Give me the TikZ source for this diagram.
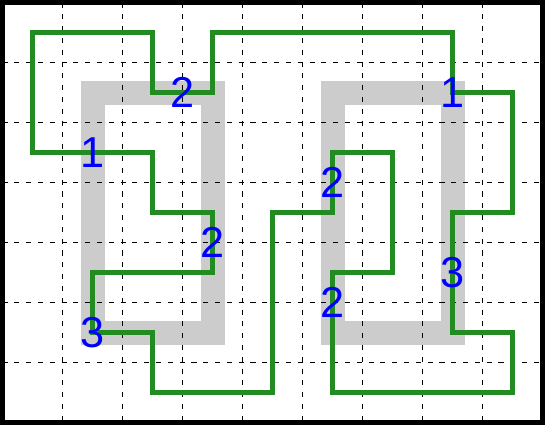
\documentclass[tikz,border=0pt]{standalone}
\usepackage{fontspec}
\setmainfont{Liberation Sans}
\definecolor{loopgreen}{HTML}{228B22}
\definecolor{bandgray}{HTML}{CCCCCC}
\definecolor{numblue}{HTML}{0000FF}
\usepackage{tikz}
\usetikzlibrary{calc}
\tikzset{
  frame_box/.style={draw=black,line width=0.0833cm},
  grid_line/.style={draw=black,line width=0.85pt,dash pattern=on 2.4pt off 3.2pt},
  band_ring/.style={draw=bandgray,line width=0.4cm,line join=miter},
  loop_line/.style={draw=loopgreen,line width=0.085cm,line join=miter},
  num_lbl/.style={inner sep=0pt,text=numblue,font=\fontsize{20.5}{24}\selectfont},
}

\begin{document}
\begin{tikzpicture}[x=1cm,y=-1cm]
    \useasboundingbox (-0.0417,-0.0417) rectangle (9.0417,7.0417);

    % grey bands
    \draw[band_ring] (1.5,1.5) rectangle (3.5,5.5);
    \draw[band_ring] (5.5,1.5) rectangle (7.5,5.5);

    % dashed grid
    \foreach \gx in {1,...,8} \draw[grid_line] (\gx,0) -- (\gx,7);
    \foreach \gy in {1,...,6} \draw[grid_line] (0,\gy) -- (9,\gy);

    % the loop
    \draw[loop_line] (0.5,0.5) -- (2.5,0.5) -- (2.5,1.5) -- (3.5,1.5) -- (3.5,0.5)
      -- (7.5,0.5) -- (7.5,1.5) -- (8.5,1.5) -- (8.5,3.5) -- (7.5,3.5) -- (7.5,5.5)
      -- (8.5,5.5) -- (8.5,6.5) -- (5.5,6.5) -- (5.5,4.5) -- (6.5,4.5) -- (6.5,2.5)
      -- (5.5,2.5) -- (5.5,3.5) -- (4.5,3.5) -- (4.5,6.5) -- (2.5,6.5) -- (2.5,5.5)
      -- (1.5,5.5) -- (1.5,4.5) -- (3.5,4.5) -- (3.5,3.5) -- (2.5,3.5) -- (2.5,2.5)
      -- (0.5,2.5) -- cycle;

    % clue numbers
    \node[num_lbl] (c_a) at (3,1.5) {2};
    \node[num_lbl] (c_b) at (1.5,2.5) {1};
    \node[num_lbl] (c_c) at (3.5,4) {2};
    \node[num_lbl] (c_d) at (1.5,5.5) {3};
    \node[num_lbl] (c_e) at (7.5,1.5) {1};
    \node[num_lbl] (c_f) at (5.5,3) {2};
    \node[num_lbl] (c_g) at (5.5,5) {2};
    \node[num_lbl] (c_h) at (7.5,4.5) {3};

    \draw[frame_box] (0,0) rectangle (9,7);
  \end{tikzpicture}
\end{document}
